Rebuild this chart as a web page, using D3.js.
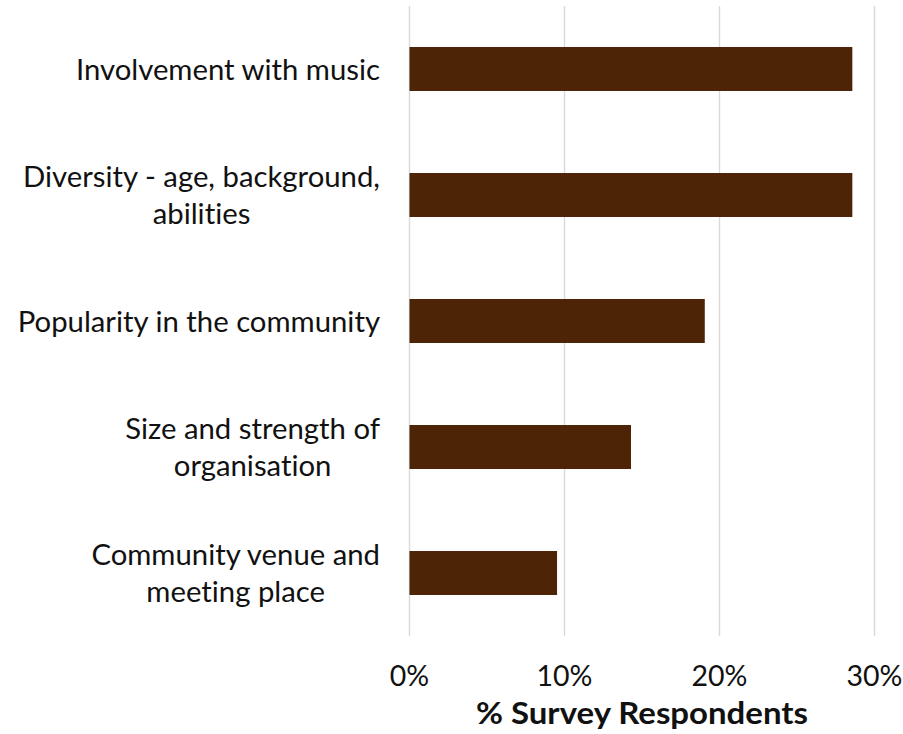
<!DOCTYPE html>
<html>
<head>
<meta charset="utf-8">
<script src="https://cdn.jsdelivr.net/npm/d3@7"></script>
<style>
  html, body { margin: 0; padding: 0; background: #fff; }
  svg { display: block; }
  text { font-family: "Lato", "Open Sans", sans-serif; fill: #111; font-variant-ligatures: none; }
</style>
</head>
<body>
<svg id="chart" width="903" height="734"></svg>
<script>
// Data
const categories = [
  ["Involvement with music"],
  ["Diversity - age, background,", "abilities"],
  ["Popularity in the community"],
  ["Size and strength of", "organisation"],
  ["Community venue and", "meeting place"]
];
const values = [0.2857, 0.2857, 0.1905, 0.1429, 0.0952];
const tickValues = [0, 0.1, 0.2, 0.3];
const tickLabels = ["0%", "10%", "20%", "30%"];
const axisTitle = "% Survey Respondents";

const svg = d3.select("#chart");
const keys = categories.map(c => c.join(" "));

const x = d3.scaleLinear().domain([0, 0.3]).range([409.5, 874.5]);
const y = d3.scaleBand().domain(keys).range([6, 636]).paddingInner(0.651).paddingOuter(0.3255);

// Gridlines
svg.append("g").selectAll("line").data(tickValues).join("line")
  .attr("x1", d => x(d)).attr("x2", d => x(d))
  .attr("y1", 6).attr("y2", 636)
  .attr("stroke", "#d9d9d9").attr("stroke-width", 1.4);

// Bars
svg.append("g").selectAll("rect").data(values).join("rect")
  .attr("x", x(0))
  .attr("y", (d, i) => y(keys[i]))
  .attr("width", d => x(d) - x(0))
  .attr("height", y.bandwidth())
  .attr("fill", "#4d2406");

// Category labels (centered lines, block right-aligned at 380)
const fs = 29.3;
const lh = 36.5;
const labelG = svg.append("g");
categories.forEach((lines, i) => {
  const cy = y(keys[i]) + y.bandwidth() / 2;
  const g = labelG.append("g");
  const base0 = cy + 10.5 - (lines.length - 1) * lh / 2;
  const t = g.selectAll("text").data(lines).join("text")
    .attr("font-size", fs)
    .attr("text-anchor", "middle")
    .attr("y", (d, j) => base0 + j * lh)
    .text(d => d);
  const widths = t.nodes().map(n => n.getComputedTextLength());
  const maxW = d3.max(widths);
  t.attr("x", 380 - maxW / 2);
});

// X axis tick labels
svg.append("g").selectAll("text").data(tickValues).join("text")
  .attr("x", d => x(d)).attr("y", 686)
  .attr("text-anchor", "middle")
  .attr("font-size", 28.5)
  .text((d, i) => tickLabels[i]);

// Axis title
svg.append("text")
  .attr("x", 642).attr("y", 724)
  .attr("text-anchor", "middle")
  .attr("font-size", 30)
  .attr("font-weight", "bold")
  .attr("textLength", 332)
  .attr("lengthAdjust", "spacingAndGlyphs")
  .text(axisTitle);
</script>
</body>
</html>
